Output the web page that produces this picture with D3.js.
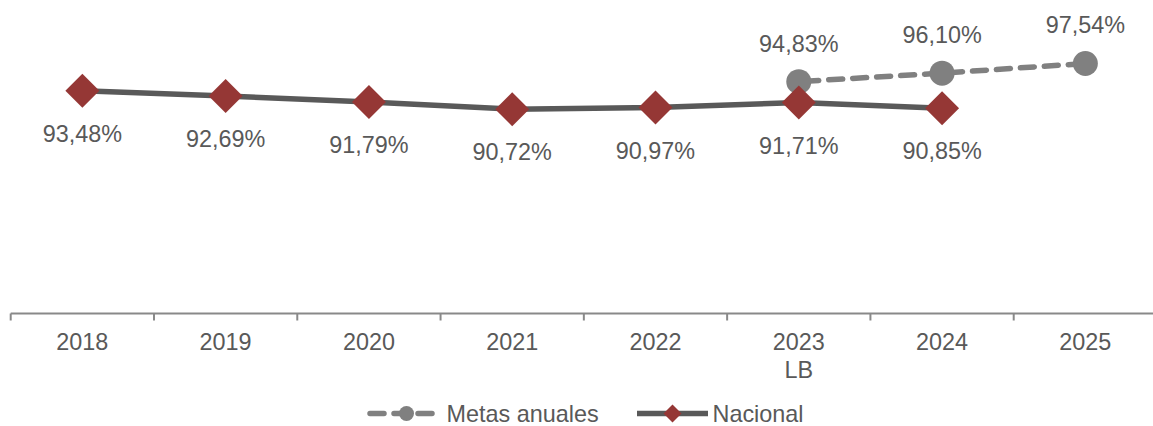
<!DOCTYPE html>
<html><head><meta charset="utf-8">
<script src="https://cdn.jsdelivr.net/npm/d3@7"></script>
<style>
html,body{margin:0;padding:0;background:#fff;}
svg{display:block;font-family:"Liberation Sans",Arial,sans-serif;}
</style></head>
<body>
<svg id="chart" width="1153" height="426"></svg>
<script>
const categories = ["2018","2019","2020","2021","2022","2023\nLB","2024","2025"];
const nacional = [93.48, 92.69, 91.79, 90.72, 90.97, 91.71, 90.85, null];
const metas = [null, null, null, null, null, 94.83, 96.10, 97.54];
const seriesNames = ["Metas anuales", "Nacional"];

const svg = d3.select("#chart");
const textColor = "#595959";
const fontSize = 23.4;

const x = d3.scaleBand().domain(categories).range([10.7, 1157]).padding(0);
const y = d3.scaleLinear().domain([60, 100]).range([315, 47]);
const cx = c => x(c) + x.bandwidth() / 2;
const fmt = v => v.toFixed(2).replace(".", ",") + "%";

// X axis
const axisG = svg.append("g").attr("transform", "translate(0,313.5)");
axisG.append("line").attr("x1", x.range()[0]).attr("x2", x.range()[1])
  .attr("stroke", "#898989").attr("stroke-width", 2);
axisG.selectAll("line.tick").data(categories).enter().append("line")
  .attr("class", "tick")
  .attr("x1", d => x(d)).attr("x2", d => x(d))
  .attr("y1", 0).attr("y2", 7)
  .attr("stroke", "#898989").attr("stroke-width", 2);
const lbl = axisG.selectAll("text").data(categories).enter().append("text")
  .attr("text-anchor", "middle")
  .attr("fill", textColor).attr("font-size", fontSize)
  .attr("x", d => cx(d)).attr("y", 36.5);
lbl.each(function(d){
  const parts = d.split("\n");
  d3.select(this).selectAll("tspan").data(parts).enter().append("tspan")
    .attr("x", cx(d)).attr("dy", (p,i) => i === 0 ? 0 : 28).text(p => p);
});

// Nacional line
const nacData = categories.map((c,i) => ({c, v: nacional[i]})).filter(d => d.v != null);
const metData = categories.map((c,i) => ({c, v: metas[i]})).filter(d => d.v != null);
const line = d3.line().x(d => cx(d.c)).y(d => y(d.v));

svg.append("path").datum(nacData).attr("d", line)
  .attr("fill", "none").attr("stroke", "#595959").attr("stroke-width", 5.5);

// Metas dashed line
svg.append("path").datum(metData).attr("d", line)
  .attr("fill", "none").attr("stroke", "#808080").attr("stroke-width", 5.5)
  .attr("stroke-dasharray", "14,10").attr("stroke-linecap", "round")
  .attr("stroke-dashoffset", -6);

svg.selectAll("circle.met").data(metData).enter().append("circle")
  .attr("class", "met")
  .attr("cx", d => cx(d.c)).attr("cy", d => y(d.v)).attr("r", 12.5)
  .attr("fill", "#808080");

const diamond = (px, py, h) => `M${px},${py-h}L${px+h},${py}L${px},${py+h}L${px-h},${py}Z`;
svg.selectAll("path.nac").data(nacData).enter().append("path")
  .attr("class", "nac")
  .attr("d", d => diamond(cx(d.c), y(d.v), 17))
  .attr("fill", "#953735");

// Data labels
svg.selectAll("text.nacl").data(nacData).enter().append("text")
  .attr("class", "nacl")
  .attr("x", d => cx(d.c)).attr("y", d => y(d.v) + 51)
  .attr("text-anchor", "middle").attr("fill", textColor).attr("font-size", fontSize)
  .text(d => fmt(d.v));
svg.selectAll("text.metl").data(metData).enter().append("text")
  .attr("class", "metl")
  .attr("x", d => cx(d.c)).attr("y", d => y(d.v) - 30)
  .attr("text-anchor", "middle").attr("fill", textColor).attr("font-size", fontSize)
  .text(d => fmt(d.v));

// Legend
const lg = svg.append("g");
const ly = 413.5;
lg.append("line").attr("x1", 370).attr("x2", 433).attr("y1", ly).attr("y2", ly)
  .attr("stroke", "#808080").attr("stroke-width", 5.5)
  .attr("stroke-dasharray", "14,10").attr("stroke-linecap", "round")
  .attr("stroke-dashoffset", 0);
lg.append("circle").attr("cx", 406.5).attr("cy", ly).attr("r", 7.5).attr("fill", "#808080");
lg.append("text").attr("x", 446.5).attr("y", 422).attr("fill", textColor)
  .attr("font-size", fontSize).text(seriesNames[0]);

lg.append("line").attr("x1", 637).attr("x2", 708).attr("y1", ly).attr("y2", ly)
  .attr("stroke", "#595959").attr("stroke-width", 5.5);
lg.append("path").attr("d", diamond(672.5, ly, 9)).attr("fill", "#953735");
lg.append("text").attr("x", 712.5).attr("y", 422).attr("fill", textColor)
  .attr("font-size", fontSize).text(seriesNames[1]);
</script>
</body></html>
